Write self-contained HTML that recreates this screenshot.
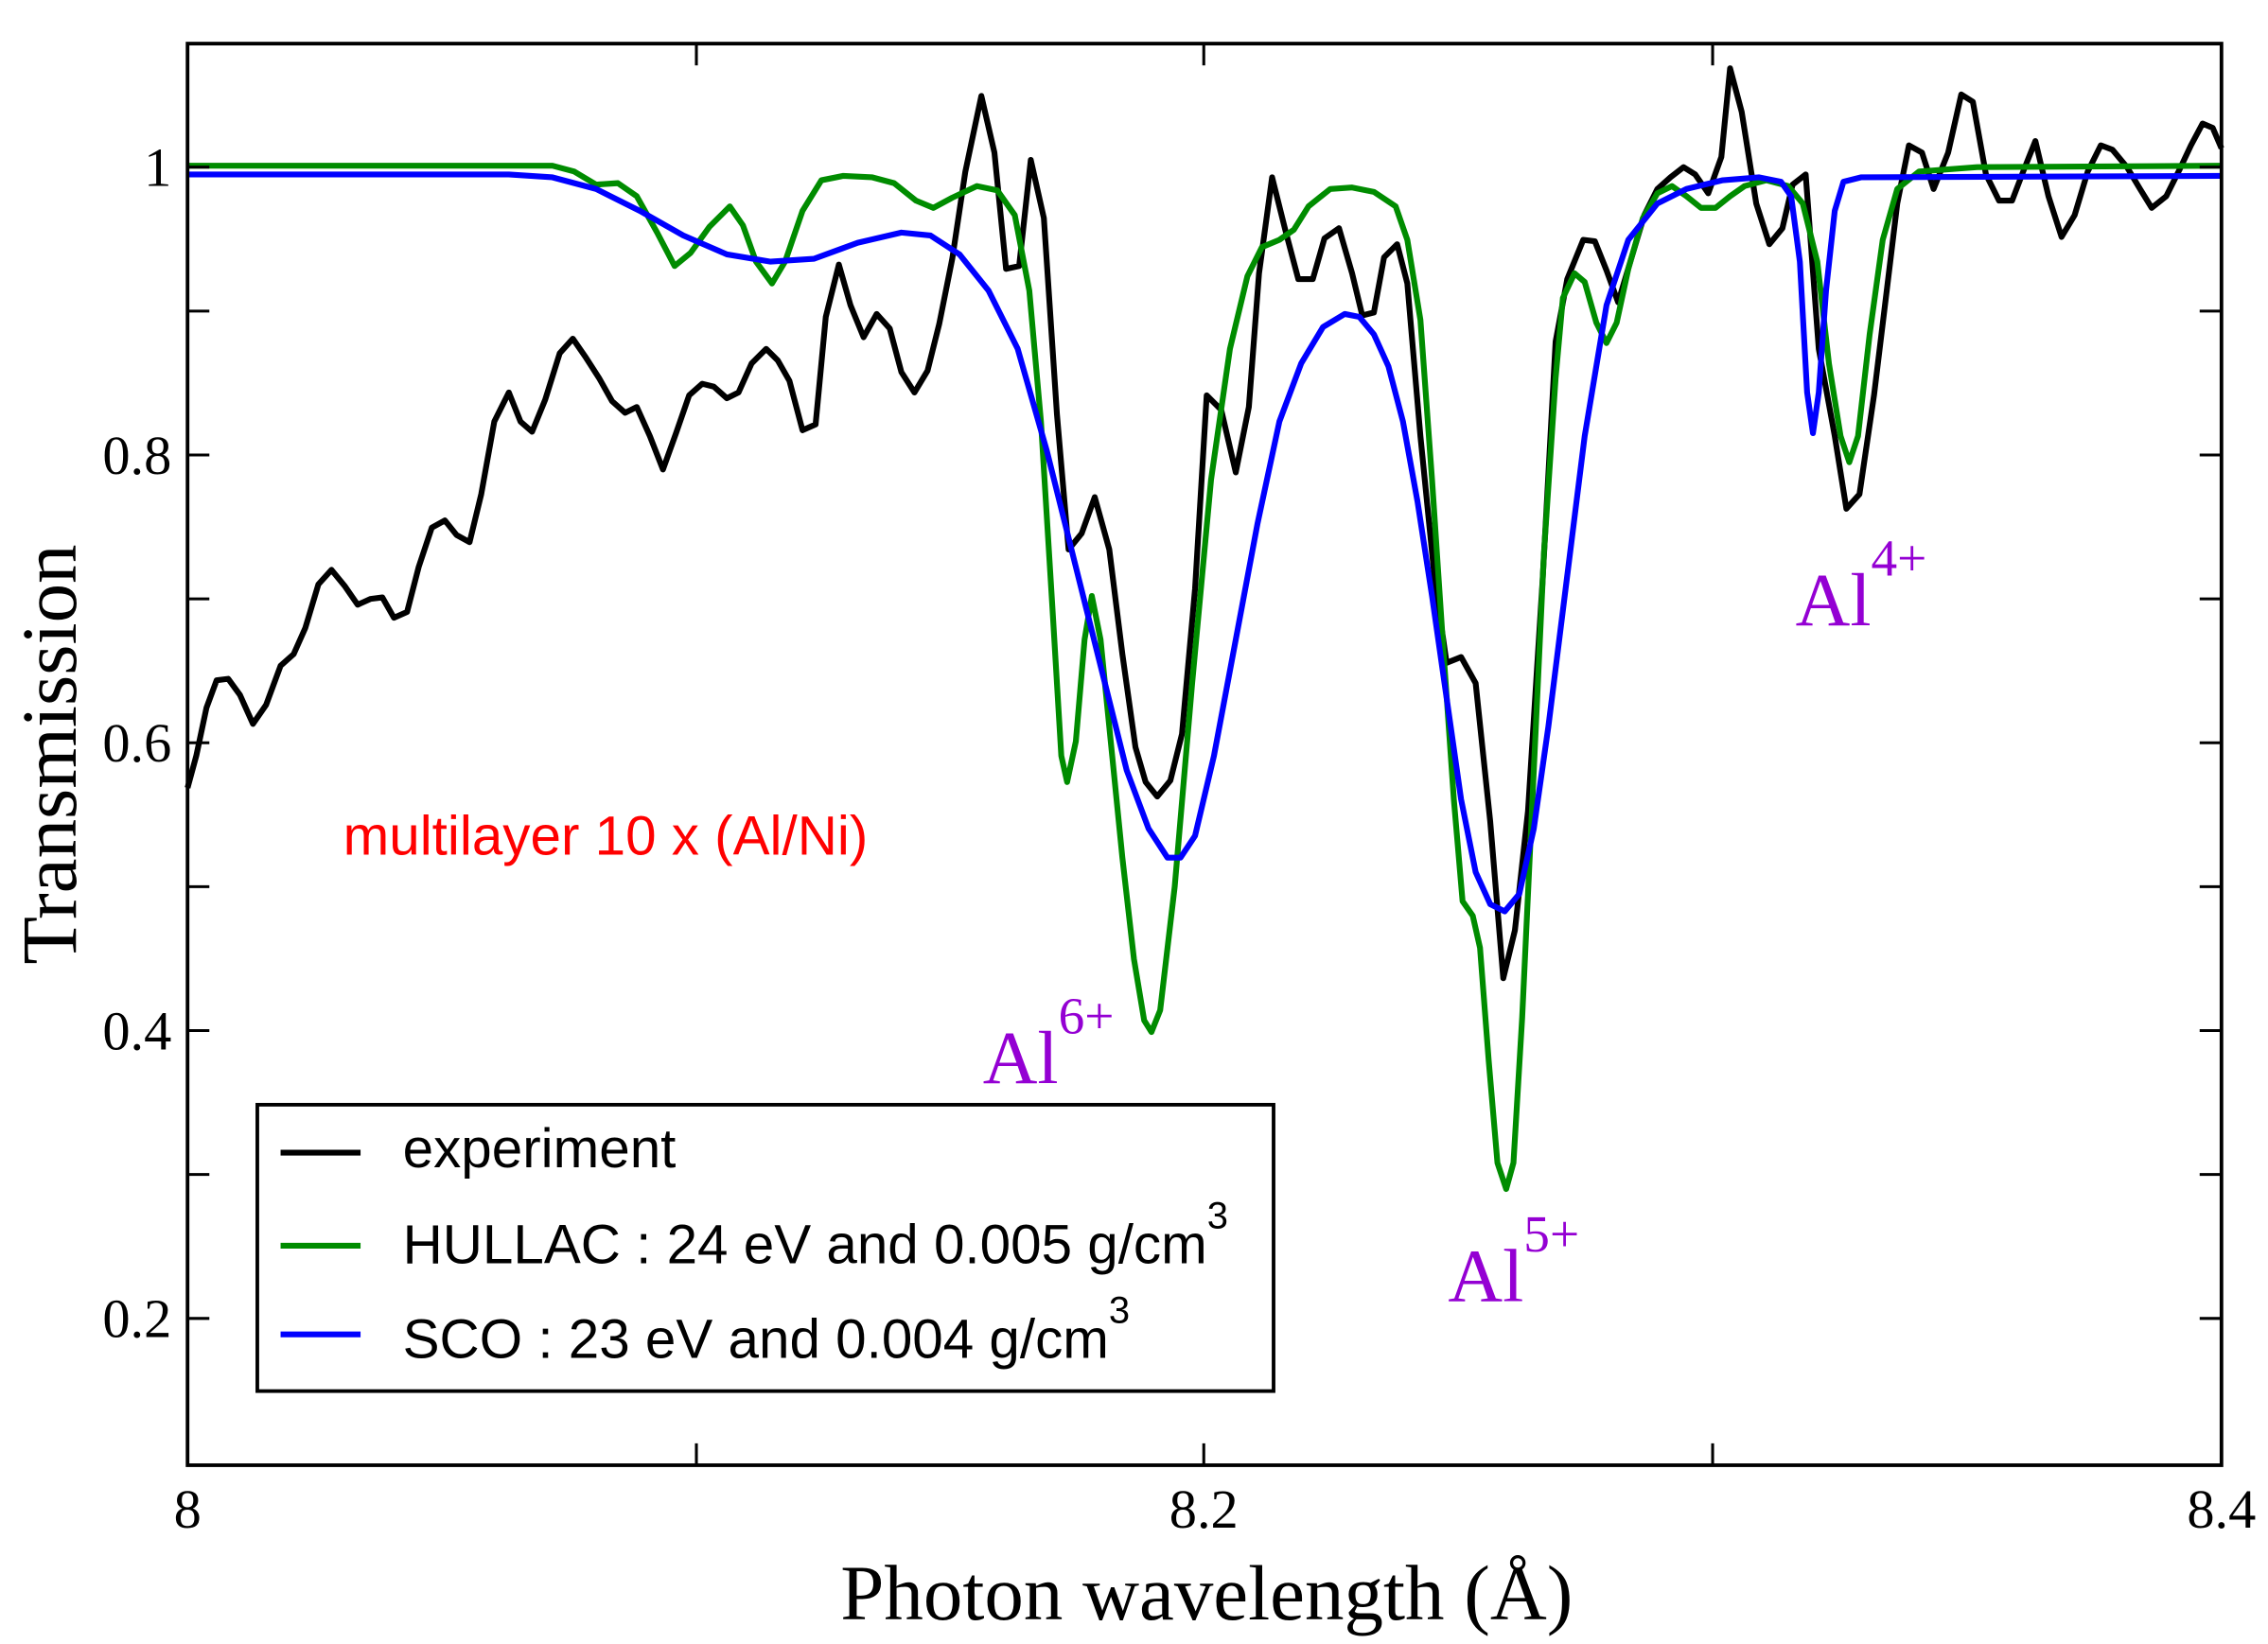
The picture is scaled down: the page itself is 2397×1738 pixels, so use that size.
<!DOCTYPE html>
<html><head><meta charset="utf-8"><style>html,body{margin:0;padding:0;background:#fff}svg{display:block}</style></head>
<body>
<svg width="2397" height="1738" viewBox="0 0 1560 1131" preserveAspectRatio="none" xmlns="http://www.w3.org/2000/svg">
<rect width="1560" height="1131" fill="#fff"/>
<g fill="none" stroke-linejoin="round" stroke-width="4">
<polyline stroke="#000" points="129,542 135,520 142,487 149,468 157,467 165,478 174,498 183,485 193,458 202,450 210,432 219,402 228,392 237,403 246,416 255,412 263,411 271,425 280,421 288,390 297,363 306,358 314,368 323,373 331,340 340,290 350,270 358,290 366,297 375,275 385,243 394,233 403,246 412,260 421,276 430,284 438,280 447,300 456,323 465,298 474,272 483,264 491,266 500,274 508,270 517,250 527,240 535,248 543,262 552,296 561,292 568,218 577,182 585,210 594,232 603,216 612,226 620,256 629,270 638,255 646,223 655,178 664,118 675,66 684,105 692,185 701,183 709,110 718,150 727,285 735,378 744,367 753,342 763,378 772,450 781,514 788,538 796,548 805,537 813,505 822,405 830,272 840,282 850,325 859,280 866,188 875,122 884,158 893,192 903,192 911,164 921,157 930,188 937,217 945,215 952,177 961,168 968,195 977,300 987,400 995,456 1005,452 1015,470 1025,565 1034,673 1042,640 1051,558 1061,400 1070,235 1078,192 1089,165 1097,166 1105,186 1113,208 1122,178 1131,148 1140,130 1149,122 1158,115 1166,120 1175,133 1184,108 1190,47 1198,77 1208,140 1217,168 1226,157 1233,127 1242,120 1251,240 1262,300 1270,350 1279,340 1289,272 1298,198 1305,140 1313,100 1322,105 1330,130 1340,105 1349,65 1357,70 1366,120 1375,138 1384,138 1392,117 1400,97 1409,135 1418,163 1427,148 1436,118 1445,100 1453,103 1463,115 1472,130 1480,143 1490,135 1499,117 1507,100 1515,85 1522,88 1528,102"/>
<polyline stroke="#008c00" points="129,114 380,114 395,118 410,127 425,126 438,135 452,160 464,183 475,174 488,156 502,142 511,155 520,180 531,195 540,180 552,145 565,124 580,121 600,122 615,126 630,138 642,143 655,136 672,128 686,131 698,148 708,200 716,290 724,420 730,520 734,538 740,510 746,440 751,410 757,440 765,520 772,590 780,660 787,702 792,710 798,695 808,610 820,470 833,330 846,240 858,190 868,170 880,165 890,158 900,142 915,130 930,129 945,132 960,142 968,165 977,220 985,330 993,450 1000,550 1006,620 1013,630 1018,652 1024,730 1030,800 1036,818 1041,800 1047,700 1055,530 1062,380 1070,260 1075,205 1083,188 1090,194 1098,222 1105,236 1112,222 1120,185 1130,150 1140,133 1150,128 1160,135 1170,143 1180,143 1190,135 1200,128 1215,124 1230,128 1240,140 1250,180 1258,250 1266,300 1272,318 1278,300 1286,230 1295,165 1305,130 1320,118 1360,115 1528,114"/>
<polyline stroke="#0000ff" points="129,120 350,120 380,122 410,130 440,145 470,162 500,175 530,180 560,178 590,167 620,160 640,162 660,175 680,200 700,240 720,310 740,390 760,470 775,530 790,570 803,590 812,590 822,575 835,520 850,440 865,360 880,290 895,250 910,225 925,216 935,218 945,230 955,252 965,290 975,345 985,410 995,480 1005,550 1015,600 1025,622 1035,627 1045,615 1055,570 1065,500 1075,420 1090,300 1105,210 1120,165 1140,140 1160,130 1185,124 1210,122 1225,125 1232,135 1238,180 1243,270 1247,298 1251,270 1256,200 1262,145 1268,125 1280,122 1528,121"/>
</g>
<rect x="129" y="30" width="1399" height="978" fill="none" stroke="#000" stroke-width="2.5"/>
<g stroke="#000" stroke-width="2">
<path d="M479,1008v-15M828,1008v-15M1178,1008v-15M479,30v15M828,30v15M1178,30v15"/>
<path d="M129,115h15M129,214h15M129,313h15M129,412h15M129,511h15M129,610h15M129,709h15M129,808h15M129,907h15"/>
<path d="M1528,115h-15M1528,214h-15M1528,313h-15M1528,412h-15M1528,511h-15M1528,610h-15M1528,709h-15M1528,808h-15M1528,907h-15"/>
</g>
<g font-family="Liberation Serif, serif" font-size="38" fill="#000">
<text x="129" y="1051" text-anchor="middle">8</text>
<text x="828" y="1051" text-anchor="middle">8.2</text>
<text x="1528" y="1051" text-anchor="middle">8.4</text>
<g text-anchor="end"><text x="118" y="128">1</text><text x="118" y="326">0.8</text><text x="118" y="524">0.6</text><text x="118" y="722">0.4</text><text x="118" y="920">0.2</text></g>
<text x="830" y="1114" text-anchor="middle" font-size="54">Photon wavelength (Å)</text>
<text transform="translate(52,519) rotate(-90)" text-anchor="middle" font-size="54">Transmission</text>
</g>
<text x="236" y="588" font-family="Liberation Sans, sans-serif" font-size="38" fill="#ff0000">multilayer 10 x (Al/Ni)</text>
<g font-family="Liberation Serif, serif" fill="#9400d3" font-size="52">
<text x="676" y="745">Al<tspan dy="-34" font-size="36">6+</tspan></text>
<text x="996" y="895">Al<tspan dy="-34" font-size="36">5+</tspan></text>
<text x="1235" y="430">Al<tspan dy="-34" font-size="36">4+</tspan></text>
</g>
<rect x="177" y="760" width="699" height="197" fill="#fff" stroke="#000" stroke-width="2.5"/>
<g stroke-width="4"><path d="M193,793h55" stroke="#000"/><path d="M193,857h55" stroke="#008c00"/><path d="M193,918h55" stroke="#0000ff"/></g>
<g font-family="Liberation Sans, sans-serif" font-size="38" fill="#000">
<text x="277" y="803">experiment</text>
<text x="277" y="869">HULLAC : 24 eV and 0.005 g/cm<tspan dy="-24" font-size="26">3</tspan></text>
<text x="277" y="934">SCO : 23 eV and 0.004 g/cm<tspan dy="-24" font-size="26">3</tspan></text>
</g>
</svg>
</body></html>
